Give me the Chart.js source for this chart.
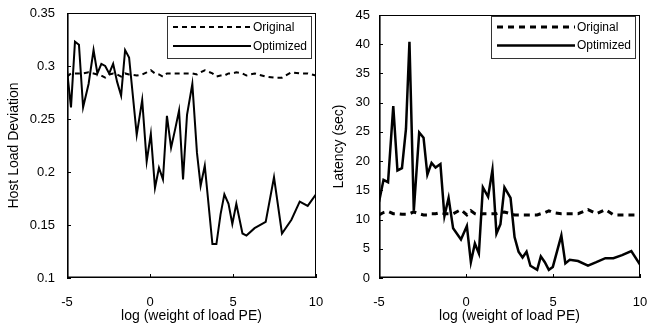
<!DOCTYPE html>
<html>
<head>
<meta charset="utf-8">
<script src="https://cdn.jsdelivr.net/npm/chart.js@4/dist/chart.umd.min.js"></script>
<style>
    html, body { margin: 0; padding: 0; background: #fff; }
    .panel { position: absolute; top: 0; width: 325px; height: 327px; }
    #panel-carga { left: 0; }
    #panel-latencia { left: 325px; }
</style>
</head>
<body>
<div class="panel" id="panel-carga"><canvas id="graficoCarga"></canvas></div>
<div class="panel" id="panel-latencia"><canvas id="graficoLatencia"></canvas></div>
<script>
// =========================
// DATOS
// =========================
const ticksX = [-5, 0, 5, 10];

// Gráfico izquierdo: Host Load Deviation
const xCarga = [-5, -4.76, -4.52, -4.28, -4.03, -3.7, -3.4, -3.17, -2.93, -2.7,
    -2.46, -2.22, -1.98, -1.74, -1.5, -1.26, -0.8, -0.47, -0.2, 0.05,
    0.3, 0.54, 0.78, 1.02, 1.27, 1.51, 1.75, 1.99, 2.23, 2.55,
    2.83, 3.05, 3.3, 3.76, 4.0, 4.25, 4.48, 4.73, 4.96, 5.2,
    5.57, 5.81, 6.3, 6.97, 7.47, 7.95, 8.52, 9.02, 9.5, 10];
const cargaOriginal = [0.290, 0.293, 0.293, 0.293, 0.293, 0.294, 0.293, 0.292, 0.291, 0.289,
    0.292, 0.293, 0.292, 0.290, 0.293, 0.292, 0.291, 0.292, 0.294, 0.296,
    0.293, 0.292, 0.290, 0.293, 0.293, 0.293, 0.293, 0.293, 0.293, 0.293,
    0.292, 0.294, 0.296, 0.293, 0.290, 0.291, 0.291, 0.293, 0.293, 0.294,
    0.293, 0.291, 0.293, 0.290, 0.289, 0.289, 0.294, 0.293, 0.293, 0.291];
const cargaOptimizada = [0.296, 0.261, 0.323, 0.320, 0.261, 0.283, 0.315, 0.293, 0.302, 0.300,
    0.293, 0.302, 0.285, 0.272, 0.315, 0.308, 0.235, 0.268, 0.210, 0.236,
    0.185, 0.204, 0.193, 0.253, 0.223, 0.240, 0.258, 0.193, 0.254, 0.283,
    0.218, 0.187, 0.206, 0.132, 0.132, 0.160, 0.179, 0.170, 0.151, 0.170,
    0.142, 0.140, 0.147, 0.153, 0.195, 0.142, 0.155, 0.172, 0.168, 0.179];
const ticksCarga = [0.1, 0.15, 0.2, 0.25, 0.3, 0.35];

// Gráfico derecho: Latency
const xLatencia = [-5, -4.74, -4.48, -4.18, -3.94, -3.68, -3.45, -3.25, -3.0, -2.69,
    -2.44, -2.22, -1.98, -1.75, -1.47, -1.24, -1.0, -0.74, -0.29, 0.05,
    0.28, 0.51, 0.74, 0.97, 1.27, 1.52, 1.75, 1.98, 2.21, 2.56,
    2.79, 3.02, 3.25, 3.48, 3.7, 4.09, 4.3, 4.53, 4.76, 4.99,
    5.48, 5.71, 5.96, 6.44, 7.01, 7.49, 8.01, 8.47, 8.97, 9.5, 10];
const latenciaOriginal = [10.8, 11.2, 11.4, 11.0, 11.0, 10.9, 10.9, 11.0, 11.3, 11.0,
    10.8, 10.8, 11.0, 11.0, 11.2, 11.0, 11.0, 11.0, 11.7, 10.8,
    11.5, 11.0, 10.8, 11.0, 11.0, 11.0, 11.0, 11.2, 11.3, 11.0,
    10.8, 10.8, 10.8, 10.8, 10.8, 10.8, 11.0, 11.2, 11.5, 11.2,
    11.0, 11.0, 11.0, 11.0, 11.7, 11.0, 11.7, 10.8, 10.8, 10.8, 10.8];
const latenciaOptimizada = [13.0, 16.8, 16.4, 29.4, 18.4, 18.8, 25.5, 40.4, 11.5, 24.9,
    24.0, 17.7, 19.7, 18.9, 19.5, 10.6, 13.7, 8.5, 6.6, 8.9,
    2.7, 5.9, 4.2, 15.5, 13.9, 18.5, 7.6, 9.2, 15.5, 13.7,
    7.0, 4.5, 3.5, 4.5, 2.1, 1.4, 3.7, 2.7, 1.4, 1.9,
    7.3, 2.5, 3.1, 2.9, 2.1, 2.7, 3.4, 3.4, 3.9, 4.6, 2.3];
const ticksLatencia = [0, 5, 10, 15, 20, 25, 30, 35, 40, 45];

const FUENTE = "'Liberation Sans', Arial, sans-serif";

function puntos(xs, ys) {
    return xs.map((x, i) => ({ x: x, y: ys[i] }));
}

// =========================
// PLUGIN: marco, ticks hacia dentro y leyenda con caja
// =========================
const marcoPlugin = {
    id: 'marco',
    afterDraw(chart, args, opts) {
        const { ctx, chartArea: a, scales } = chart;
        ctx.save();
        ctx.strokeStyle = '#000';
        ctx.lineWidth = 1;
        ctx.strokeRect(a.left + 0.5, a.top + 0.5, a.right - a.left - 1, a.bottom - a.top - 1);

        // ejes izquierdo e inferior un poco más gruesos
        ctx.lineWidth = 1.6;
        ctx.beginPath();
        ctx.moveTo(a.left + 0.8, a.top);
        ctx.lineTo(a.left + 0.8, a.bottom - 0.8);
        ctx.lineTo(a.right, a.bottom - 0.8);
        ctx.stroke();

        ctx.lineWidth = 1;
        ctx.beginPath();
        scales.x.ticks.forEach(t => {
            const px = Math.round(scales.x.getPixelForValue(t.value)) + 0.5;
            ctx.moveTo(px, a.bottom);
            ctx.lineTo(px, a.bottom - 4);
        });
        scales.y.ticks.forEach(t => {
            const py = Math.round(scales.y.getPixelForValue(t.value)) + 0.5;
            ctx.moveTo(a.left, py);
            ctx.lineTo(a.left + 4, py);
        });
        ctx.stroke();

        // leyenda
        const bx = a.right - opts.derecha - opts.ancho;
        const by = a.top + opts.arriba;
        ctx.fillStyle = '#fff';
        ctx.fillRect(bx, by, opts.ancho, opts.alto);
        ctx.strokeStyle = '#333';
        ctx.lineWidth = 1;
        ctx.strokeRect(Math.round(bx) + 0.5, Math.round(by) + 0.5, opts.ancho, opts.alto);

        chart.data.datasets.forEach((ds, i) => {
            const y = by + opts.filas[i];
            ctx.strokeStyle = '#000';
            ctx.lineWidth = ds.borderWidth;
            ctx.setLineDash(ds.borderDash || []);
            ctx.beginPath();
            ctx.moveTo(bx + 6, y);
            ctx.lineTo(bx + 84, y);
            ctx.stroke();
            ctx.setLineDash([]);
            ctx.fillStyle = '#000';
            ctx.font = '12px ' + FUENTE;
            ctx.textBaseline = 'middle';
            ctx.fillText(ds.label, bx + 86, y + 0.5);
        });
        ctx.restore();
    }
};

function crearGrafico(id, xs, serieOriginal, serieOptimizada, ticksY, minY, maxY, tituloY, cfg) {
    return new Chart(document.getElementById(id), {
        type: 'line',
        data: {
            datasets: [
                {
                    label: 'Original',
                    data: puntos(xs, serieOriginal),
                    borderColor: '#000',
                    borderWidth: cfg.anchoOriginal,
                    borderDash: cfg.guion,
                    pointRadius: 0,
                    tension: 0,
                    fill: false
                },
                {
                    label: 'Optimized',
                    data: puntos(xs, serieOptimizada),
                    borderColor: '#000',
                    borderWidth: cfg.anchoOptimizada,
                    pointRadius: 0,
                    tension: 0,
                    fill: false
                }
            ]
        },
        options: {
            responsive: true,
            maintainAspectRatio: false,
            animation: false,
            layout: { padding: cfg.padding },
            plugins: {
                legend: { display: false },
                tooltip: { enabled: false },
                marco: cfg.leyenda
            },
            scales: {
                x: {
                    type: 'linear',
                    min: -5,
                    max: 10,
                    afterFit: s => {
                        s.height = 49;
                        s.paddingLeft = 0;
                        s.paddingRight = 0;
                    },
                    afterBuildTicks: s => { s.ticks = ticksX.map(v => ({ value: v })); },
                    grid: { display: false, drawTicks: false },
                    border: { display: false },
                    ticks: {
                        color: '#000',
                        padding: 17,
                        maxRotation: 0,
                        font: { family: FUENTE, size: 13 },
                        callback: v => String(v)
                    },
                    title: {
                        display: true,
                        text: 'log (weight of load PE)',
                        color: '#000',
                        font: { family: FUENTE, size: 14 },
                        padding: { top: 0, bottom: 2 }
                    }
                },
                y: {
                    type: 'linear',
                    min: minY,
                    max: maxY,
                    afterFit: s => {
                        s.width = cfg.anchoEjeY;
                        s.paddingTop = 0;
                        s.paddingBottom = 0;
                    },
                    afterBuildTicks: s => { s.ticks = ticksY.map(v => ({ value: v })); },
                    grid: { display: false, drawTicks: false },
                    border: { display: false },
                    ticks: {
                        color: '#000',
                        padding: cfg.paddingTicksY,
                        font: { family: FUENTE, size: 13 },
                        callback: v => String(v)
                    },
                    title: {
                        display: true,
                        text: tituloY,
                        color: '#000',
                        font: { family: FUENTE, size: 14 },
                        padding: { top: 6, bottom: 0 }
                    }
                }
            }
        },
        plugins: [marcoPlugin]
    });
}

document.addEventListener('DOMContentLoaded', () => {

    crearGrafico('graficoCarga', xCarga, cargaOriginal, cargaOptimizada,
        ticksCarga, 0.1, 0.35, 'Host Load Deviation', {
            anchoOriginal: 2,
            anchoOptimizada: 2,
            guion: [5, 4],
            anchoEjeY: 67,
            paddingTicksY: 12,
            padding: { top: 13, right: 9, bottom: 0, left: 0 },
            leyenda: { derecha: 5, arriba: 3, ancho: 144, alto: 42, filas: [11, 30] }
        });

    crearGrafico('graficoLatencia', xLatencia, latenciaOriginal, latenciaOptimizada,
        ticksLatencia, 0, 45, 'Latency (sec)', {
            anchoOriginal: 3,
            anchoOptimizada: 2.5,
            guion: [6, 5],
            anchoEjeY: 54,
            paddingTicksY: 9,
            padding: { top: 15, right: 10, bottom: 0, left: 0 },
            leyenda: { derecha: 5, arriba: 1, ancho: 144, alto: 42, filas: [11, 29.5] }
        });

});
</script>
</body>
</html>
